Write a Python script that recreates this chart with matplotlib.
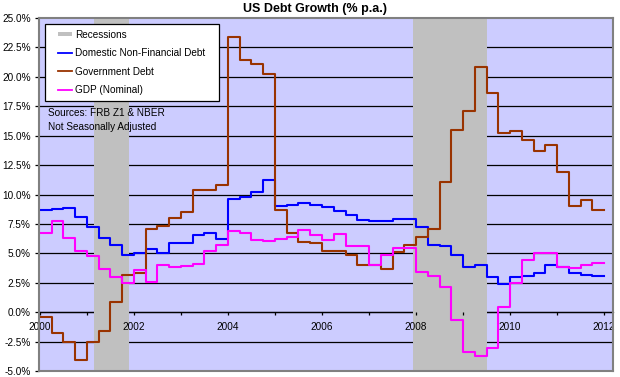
import numpy as np
import matplotlib
matplotlib.use("Agg")
import matplotlib.pyplot as plt
from matplotlib.legend_handler import HandlerLine2D, HandlerPatch
from matplotlib.lines import Line2D
from matplotlib.patches import Patch, Rectangle

plt.rcParams['font.family'] = ['Liberation Sans', 'DejaVu Sans']

# ---------------- data (quarterly, 2000Q1 .. 2011Q4, % p.a.) ----------------
quarters = 2000 + np.arange(48) * 0.25

domestic_nonfin = [8.7, 8.75, 8.85, 8.1,
                   7.2, 6.3, 5.7, 4.9,
                   5.0, 5.35, 5.05, 5.9,
                   5.85, 6.6, 6.75, 6.2,
                   9.65, 9.75, 10.2, 11.2,
                   9.0, 9.15, 9.3, 9.15,
                   8.95, 8.6, 8.25, 7.8,
                   7.75, 7.75, 7.9, 7.9,
                   7.25, 5.7, 5.6, 4.9,
                   3.8, 4.0, 3.0, 2.4,
                   3.0, 3.05, 3.35, 4.05,
                   3.8, 3.3, 3.2, 3.05]

government_debt = [-0.4, -1.8, -2.5, -4.1,
                   -2.55, -1.6, 0.85, 3.2,
                   3.35, 7.05, 7.35, 8.0,
                   8.55, 10.4, 10.4, 10.8,
                   23.4, 21.4, 21.1, 20.2,
                   8.7, 6.75, 6.0, 5.9,
                   5.2, 5.2, 4.9, 4.05,
                   4.05, 3.7, 5.15, 5.75,
                   6.4, 7.1, 11.1, 15.5,
                   17.1, 20.8, 18.6, 15.2,
                   15.4, 14.6, 13.7, 14.2,
                   11.9, 9.0, 9.5, 8.7]

gdp_nominal = [6.7, 7.75, 6.3, 5.2,
               4.75, 3.65, 2.95, 2.5,
               3.6, 2.6, 4.0, 3.85,
               3.95, 4.1, 5.2, 5.7,
               6.9, 6.7, 6.1, 6.05,
               6.2, 6.4, 6.95, 6.55,
               6.15, 6.65, 5.6, 5.6,
               4.0, 4.85, 5.45, 5.45,
               3.4, 3.1, 2.15, -0.7,
               -3.35, -3.75, -3.05, 0.45,
               2.47, 4.4, 5.05, 5.05,
               3.8, 3.75, 4.05, 4.2]

recession_starts = [2001.15, 2007.93]
recession_ends = [2001.89, 2009.52]

y_ticks = np.arange(-5.0, 25.01, 2.5)
x_ticks = list(range(2000, 2013))
x_labels = [str(y) if y % 2 == 0 else '' for y in x_ticks]

# ---------------- figure ----------------
W, H = 620, 377
fig = plt.figure(figsize=(W / 100, H / 100), dpi=100)
L, R, T, B = 39, 613, 18, 371
ax = fig.add_axes([L / W, 1 - B / H, (R - L) / W, (B - T) / H])
ax.set_facecolor('#CCCCFF')

ax.set_xlim(1999.98, 2012.19)
ax.set_ylim(-5, 25)

FS = 7.2

# horizontal gridlines
for yv in y_ticks[1:-1]:
    ax.axhline(yv, color='black', lw=0.9, zorder=0.5)

# recession shading
for s, e in zip(recession_starts, recession_ends):
    ax.axvspan(s, e, color='#C0C0C0', lw=0, zorder=1)

def stepped(vals):
    x = np.append(quarters, quarters[-1] + 0.25)
    y = np.append(vals, vals[-1])
    return x, y

lw = 1.5
xb, yb = stepped(domestic_nonfin)
ax.plot(xb, yb, drawstyle='steps-post', color='#0000FF', lw=lw, zorder=2)
xg, yg = stepped(government_debt)
ax.plot(xg, yg, drawstyle='steps-post', color='#993300', lw=lw, zorder=2)
xd, yd = stepped(gdp_nominal)
ax.plot(xd, yd, drawstyle='steps-post', color='#FF00FF', lw=lw, zorder=2)

# axes / spines
frame_c = '#808080'
for s in ['left', 'right', 'top']:
    ax.spines[s].set_color(frame_c)
    ax.spines[s].set_linewidth(1.5)
ax.spines['bottom'].set_position(('data', 0))
ax.spines['bottom'].set_color('black')
ax.spines['bottom'].set_linewidth(0.9)
ax.spines['bottom'].set_zorder(0.8)
ax.axhline(-5, color=frame_c, lw=1.5, clip_on=False, zorder=3)

ax.set_yticks(y_ticks)
ax.set_yticklabels([f'{v:.1f}%' for v in y_ticks])
ax.set_xticks(x_ticks)
ax.set_xticklabels(x_labels)
ax.tick_params(axis='y', direction='out', length=3, width=0.9, pad=2.9,
               labelsize=FS, colors='black')
ax.tick_params(axis='x', direction='out', length=2.2, width=0.9, pad=5,
               labelsize=FS, colors='black')

fig.text(315 / W, 1 - 9 / H, 'US Debt Growth (% p.a.)', fontsize=9,
         fontweight='bold', ha='center', va='center')

# legend with handles drawn in the right part of the handle box
class RightLine(HandlerLine2D):
    def create_artists(self, legend, orig_handle, xdescent, ydescent,
                       width, height, fontsize, trans):
        y = height / 2 - ydescent
        x0 = -xdescent + width * 0.33
        ln = Line2D([x0, -xdescent + width], [y, y], color=orig_handle.get_color(),
                    lw=orig_handle.get_linewidth(), transform=trans)
        return [ln]

def right_patch(legend, orig_handle, xdescent, ydescent, width, height, fontsize):
    return Rectangle((-xdescent + width * 0.33, -ydescent + height * 0.15),
                     width * 0.67, height * 0.7)

handles = [Patch(facecolor='#C0C0C0', edgecolor='none'),
           Line2D([], [], color='#0000FF', lw=1.3),
           Line2D([], [], color='#993300', lw=1.3),
           Line2D([], [], color='#FF00FF', lw=1.3)]
labels = ['Recessions', 'Domestic Non-Financial Debt', 'Government Debt', 'GDP (Nominal)']
lx0 = (45 - L) / (R - L)
lx1 = (219 - L) / (R - L)
ly1 = (B - 24) / (B - T)
ly0 = (B - 97) / (B - T)
leg = ax.legend(handles, labels, loc='upper left',
                bbox_to_anchor=(lx0, ly0, lx1 - lx0, ly1 - ly0),
                mode='expand', borderaxespad=0, fontsize=FS,
                handlelength=2.15, handletextpad=0.3, borderpad=0.55,
                labelspacing=0.85, fancybox=False, framealpha=1,
                edgecolor='black',
                handler_map={Line2D: RightLine(), Patch: HandlerPatch(patch_func=right_patch)})
leg.get_frame().set_linewidth(0.9)
leg.set_zorder(5)

ax.text((48 - L) / (R - L), (B - 113) / (B - T), 'Sources: FRB Z1 & NBER',
        transform=ax.transAxes, fontsize=FS, va='center', ha='left', zorder=5)
ax.text((48 - L) / (R - L), (B - 127) / (B - T), 'Not Seasonally Adjusted',
        transform=ax.transAxes, fontsize=FS, va='center', ha='left', zorder=5)

fig.savefig('out.png', dpi=100, facecolor='white')
